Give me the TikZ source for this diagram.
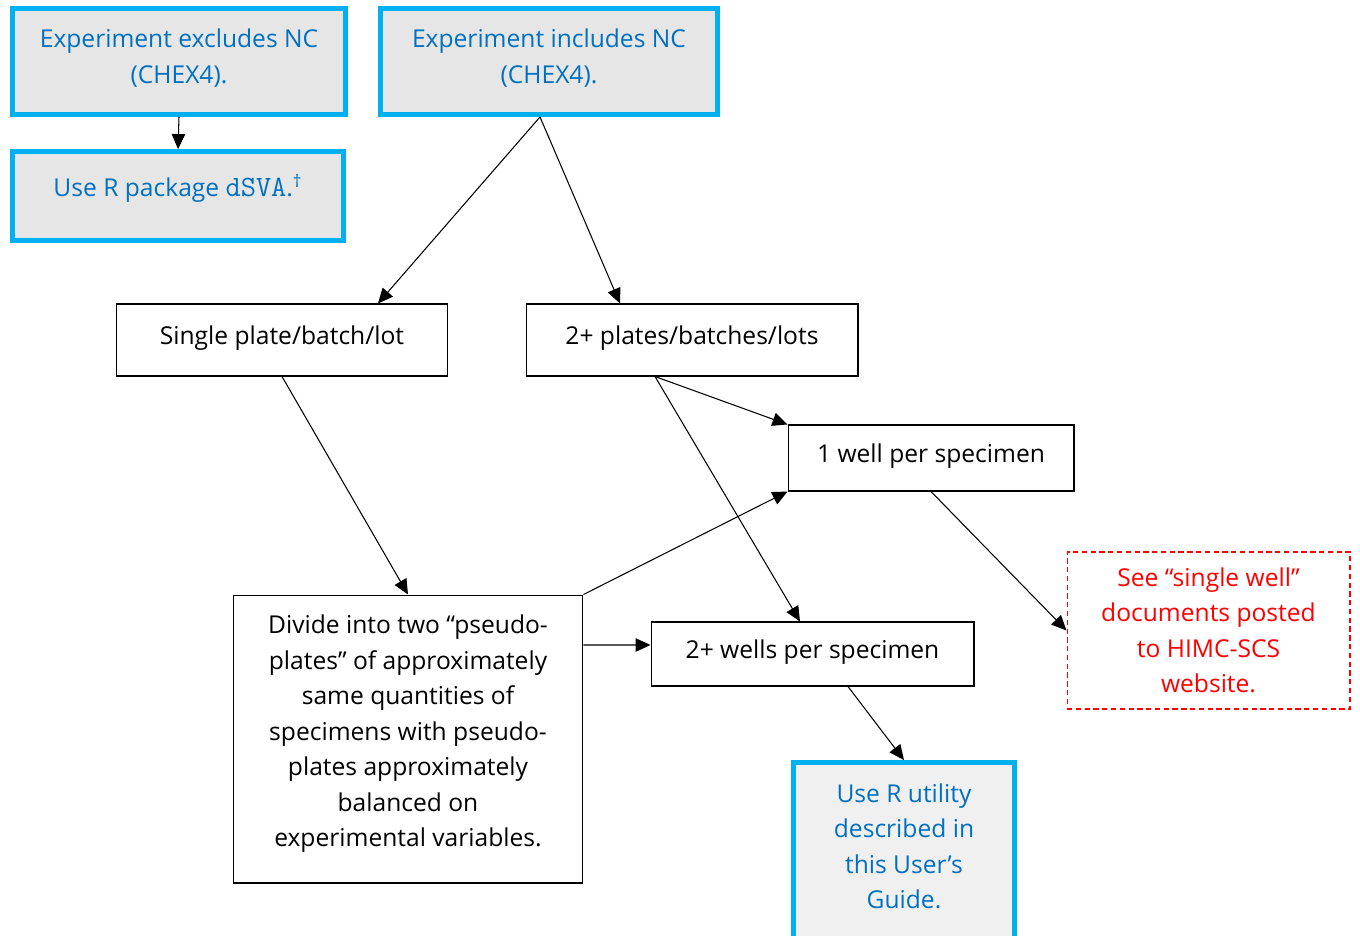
\documentclass[tikz,border=0pt]{standalone}
\usepackage{fontspec}
\setmainfont{Open Sans}
\setmonofont{Latin Modern Mono}[Scale=1.2]
\usetikzlibrary{positioning, arrows.meta}
\definecolor{ncblue}{HTML}{0070C0}
\definecolor{ncframe}{HTML}{00B0F0}
\definecolor{ncgray}{HTML}{E6E6E6}
\definecolor{ncgrayl}{HTML}{F0F0F0}

\begin{document}
\begin{tikzpicture}[x=0.02cm, y=-0.02cm,
        font=\fontsize{14}{20.2}\selectfont,
        bluebox/.style={draw=ncframe, line width=2.8pt, fill=ncgray, text=ncblue, align=center, inner sep=2pt},
        plainbox/.style={draw, line width=0.6pt, align=center, inner sep=2pt},
        notebox/.style={draw=red, dash pattern=on 3pt off 2pt, line width=0.6pt, text=red, align=center},
        arr/.style={-{Triangle[length=0.3cm, width=0.27cm]}, line width=0.6pt}]
        \useasboundingbox (0,0) rectangle (1360,936);
        %---------------------------
        \node[bluebox, minimum width=6.66cm, minimum height=2.12cm, text depth=6pt] (excl) at (179,61.5) {Experiment excludes NC\\(CHEX4).};
        \node[bluebox, minimum width=6.74cm, minimum height=2.12cm, text depth=6pt] (incl) at (549,61.5) {Experiment includes NC\\(CHEX4).};
        \node[bluebox, minimum width=6.62cm, minimum height=1.78cm, text depth=12pt] (dsva) at (178,196) {Use R package \texttt{dSVA}.\textsuperscript{†}};
        \node[plainbox, minimum width=6.64cm, minimum height=1.44cm, text depth=6pt] (single) at (282,340) {Single plate/batch/lot};
        \node[plainbox, minimum width=6.64cm, minimum height=1.44cm, text depth=6pt] (plates) at (692,340) {2+ plates/batches/lots};
        \node[plainbox, minimum width=5.72cm, minimum height=1.32cm, text depth=5pt] (onewell) at (931,458) {1 well per specimen};
        \node[plainbox, minimum width=7cm, minimum height=5.76cm, text depth=9pt] (divide) at (408,739) {Divide into two “pseudo-\\plates” of approximately\\same quantities of\\specimens with pseudo-\\plates approximately\\balanced on\\experimental variables.};
        \node[plainbox, minimum width=6.46cm, minimum height=1.28cm, text depth=5pt] (twowell) at (812.5,654) {2+ wells per specimen};
        \node[notebox, minimum width=5.66cm, minimum height=3.14cm] (single-note) at (1208.5,630.5) {See “single well”\\documents posted\\to HIMC-SCS\\website.};
        \node[bluebox, fill=ncgrayl, minimum width=4.42cm, minimum height=4.05cm] (guide) at (904,863.75) {Use R utility\\described in\\this User’s\\Guide.\\ \mbox{}};
        %--------------------------
        \draw[arr] (excl.south) -- (dsva.north);
        \draw[arr] ([xshift=-0.18cm]incl.south) -- ([xshift=1.92cm]single.north);
        \draw[arr] ([xshift=-0.18cm]incl.south) -- ([xshift=-1.44cm]plates.north);
        \draw[arr] (single.south) -- (divide.north);
        \draw[arr] ([xshift=-0.74cm]plates.south) -- (onewell.north west);
        \draw[arr] ([xshift=-0.74cm]plates.south) -- ([xshift=-0.25cm]twowell.north);
        \draw[arr] (divide.north east) -- (onewell.south west);
        \draw[arr] ([yshift=1.88cm]divide.east) -- ([yshift=0.18cm]twowell.west);
        \draw[arr] (onewell.south) -- (single-note.west);
        \draw[arr] ([xshift=0.71cm]twowell.south) -- (guide.north);
\end{tikzpicture}
\end{document}
